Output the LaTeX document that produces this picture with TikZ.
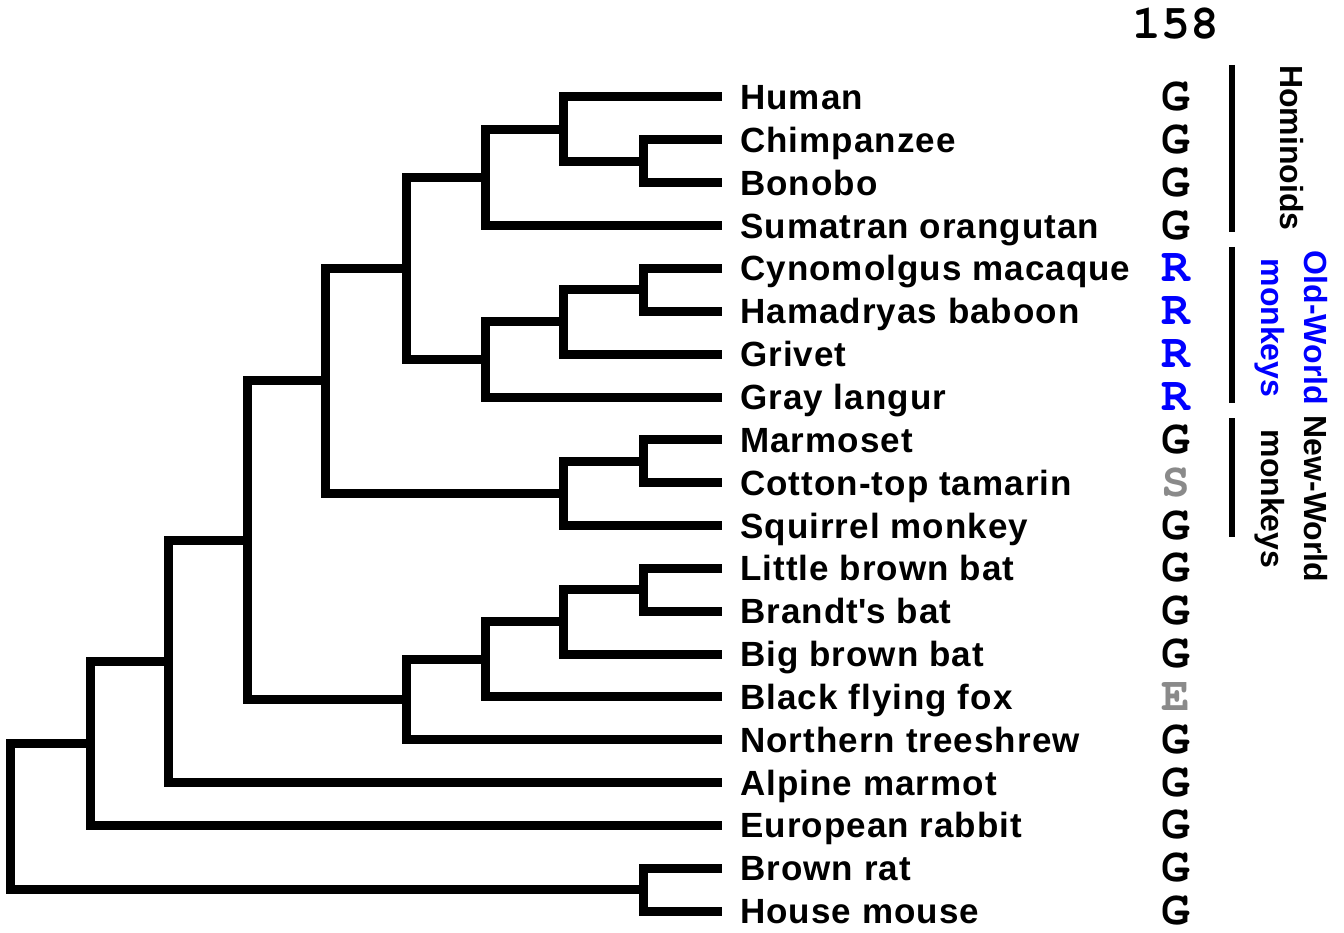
\documentclass[tikz,border=0pt]{standalone}
\usepackage{fontspec}
\setmainfont{Liberation Sans}
\newfontfamily\labfont{Liberation Sans}[LetterSpace=3]
\newfontfamily\cursorfont{TeX Gyre Cursor}
\definecolor{resgray}{HTML}{8A8A8A}
\definecolor{resblue}{HTML}{0000FF}
\begin{document}
\begin{tikzpicture}[x=1pt,y=-1pt,
  br/.style={line width=9pt, line join=miter, line cap=butt},
  bar/.style={line width=6pt},
  lab/.style={anchor=west, inner sep=0pt, text height=25pt, text depth=0pt,
    font=\fontsize{35}{40}\selectfont\labfont\bfseries},
  res/.style={anchor=center, inner sep=0pt, text height=27pt, text depth=0pt,
    font=\fontsize{48}{50}\selectfont\cursorfont\bfseries},
  grp/.style={rotate=-90, anchor=center, align=center, inner sep=0pt,
    font=\fontsize{32}{43}\selectfont\bfseries}]
\useasboundingbox (0,0) rectangle (1344,933);

\node[res] (col) at (1176,25) {158};

\foreach \i/\y/\txt/\r/\c in {
  1/97/Human/G/black,
  2/139.9/Chimpanzee/G/black,
  3/182.7/Bonobo/G/black,
  4/225.6/Sumatran orangutan/G/black,
  5/268.4/Cynomolgus macaque/R/resblue,
  6/311.3/Hamadryas baboon/R/resblue,
  7/354.1/Grivet/R/resblue,
  8/397/Gray langur/R/resblue,
  9/439.8/Marmoset/G/black,
  10/482.7/Cotton-top tamarin/S/resgray,
  11/525.5/Squirrel monkey/G/black,
  12/568.4/Little brown bat/G/black,
  13/611.2/Brandt\textquotesingle s bat/G/black,
  14/654/Big brown bat/G/black,
  15/696.9/Black flying fox/E/resgray,
  16/739.7/Northern treeshrew/G/black,
  17/782.6/Alpine marmot/G/black,
  18/825.4/European rabbit/G/black,
  19/868.3/Brown rat/G/black,
  20/911.1/House mouse/G/black}{
  \coordinate (t\i) at (722,\y);
  \node[lab] (l\i) at (740,\y) {\txt};
  \node[res, text=\c] (r\i) at (1176,\y) {\r};
}

% internal nodes
\coordinate (cb)   at (643,161.3);
\coordinate (hcb)  at (563,129.2);
\coordinate (apes) at (485,177.4);
\coordinate (ch)   at (643,289.8);
\coordinate (chg)  at (563,322.0);
\coordinate (owm)  at (485,359.5);
\coordinate (cat)  at (406,268.4);
\coordinate (mc)   at (643,461.2);
\coordinate (nwm)  at (563,493.4);
\coordinate (prim) at (325,380.9);
\coordinate (lb)   at (643,589.8);
\coordinate (bat3) at (563,621.9);
\coordinate (bats) at (485,659.4);
\coordinate (scb)  at (406,699.6);
\coordinate (pb)   at (247,540.2);
\coordinate (am)   at (168,661.4);
\coordinate (er)   at (90,743.4);
\coordinate (rod)  at (643,889.7);
\coordinate (root) at (10,816.5);

% edges
\draw[br] (cb) |- (t2);  \draw[br] (cb) |- (t3);
\draw[br] (hcb) |- (t1); \draw[br] (hcb) |- (cb);
\draw[br] (apes) |- (hcb); \draw[br] (apes) |- (t4);
\draw[br] (ch) |- (t5);  \draw[br] (ch) |- (t6);
\draw[br] (chg) |- (ch); \draw[br] (chg) |- (t7);
\draw[br] (owm) |- (chg); \draw[br] (owm) |- (t8);
\draw[br] (cat) |- (apes); \draw[br] (cat) |- (owm);
\draw[br] (mc) |- (t9);  \draw[br] (mc) |- (t10);
\draw[br] (nwm) |- (mc); \draw[br] (nwm) |- (t11);
\draw[br] (prim) |- (cat); \draw[br] (prim) |- (nwm);
\draw[br] (lb) |- (t12); \draw[br] (lb) |- (t13);
\draw[br] (bat3) |- (lb); \draw[br] (bat3) |- (t14);
\draw[br] (bats) |- (bat3); \draw[br] (bats) |- (t15);
\draw[br] (scb) |- (bats); \draw[br] (scb) |- (t16);
\draw[br] (pb) |- (prim); \draw[br] (pb) |- (scb);
\draw[br] (am) |- (pb); \draw[br] (am) |- (t17);
\draw[br] (er) |- (am); \draw[br] (er) |- (t18);
\draw[br] (rod) |- (t19); \draw[br] (rod) |- (t20);
\draw[br] (root) |- (er); \draw[br] (root) |- (rod);

% group bars and labels
\coordinate (hb1) at (1232,65);  \coordinate (hb2) at (1232,232);
\coordinate (ob1) at (1232,247); \coordinate (ob2) at (1232,403);
\coordinate (nb1) at (1232,418); \coordinate (nb2) at (1232,537);
\draw[bar] (hb1) -- (hb2);
\draw[bar] (ob1) -- (ob2);
\draw[bar] (nb1) -- (nb2);
\node[grp] (ghom) at (1292,148) {Hominoids};
\node[grp, text=resblue] (gowm) at (1291.5,328) {Old-World\\monkeys};
\node[grp] (gnwm) at (1291.5,499) {New-World\\monkeys};
\end{tikzpicture}
\end{document}
